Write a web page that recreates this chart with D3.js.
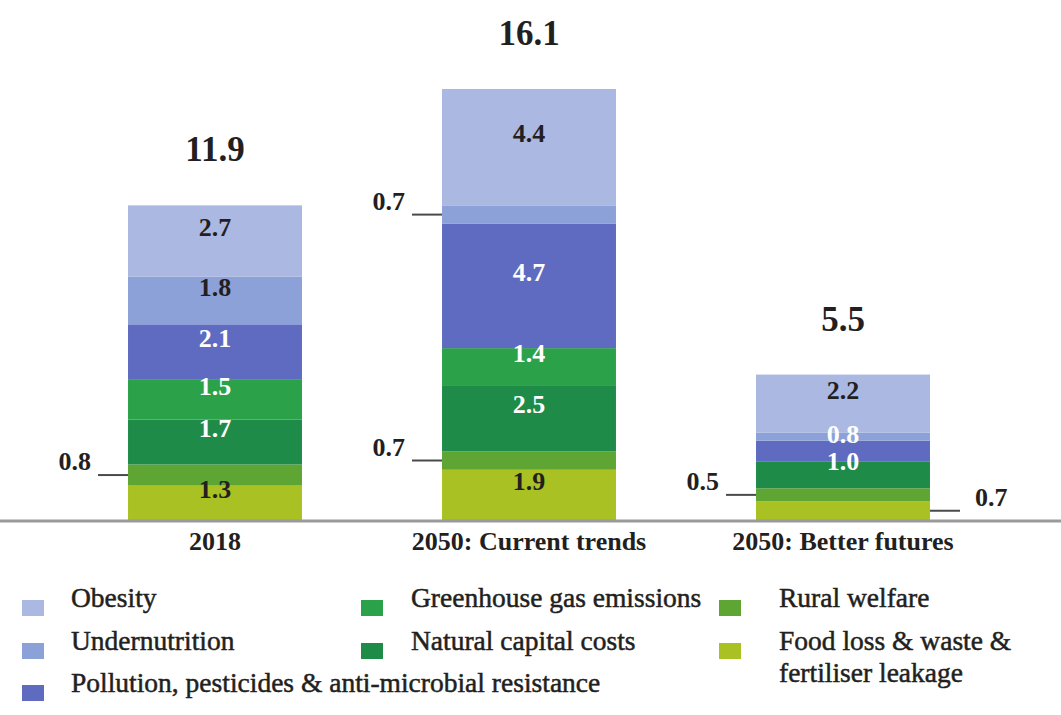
<!DOCTYPE html>
<html>
<head>
<meta charset="utf-8">
<script src="https://cdn.jsdelivr.net/npm/d3@7"></script>
<style>
  body { margin: 0; background: #fff; }
  svg { display: block; }
  text { font-family: "Liberation Serif", "DejaVu Serif", serif; fill: #231f20; }
</style>
</head>
<body>
<svg id="chart" width="1061" height="715"></svg>
<script>
// values in trillions of dollars
const categories = ["2018", "2050: Current trends", "2050: Better futures"];
const series = [
  "Food loss & waste & fertiliser leakage",
  "Rural welfare",
  "Natural capital costs",
  "Greenhouse gas emissions",
  "Pollution, pesticides & anti-microbial resistance",
  "Undernutrition",
  "Obesity"
];
const foodLoss       = [1.3, 1.9, 0.7];
const ruralWelfare   = [0.8, 0.7, 0.5];
const naturalCapital = [1.7, 2.5, 1.0];
const greenhouse     = [1.5, 1.4, 0.0];
const pollution      = [2.1, 4.7, 0.8];
const undernutrition = [1.8, 0.7, 0.3];
const obesity        = [2.7, 4.4, 2.2];
const totals         = [11.9, 16.1, 5.5];

const colors = ["#a9c122", "#5fa534", "#1f8b48", "#2ba24a", "#5f6bc0", "#8ca1d8", "#aab8e2"];
const darkText = ["Food loss & waste & fertiliser leakage", "Undernutrition", "Obesity"];

// small segments labelled outside the bar with a leader line
const outside = [
  ["2018", "Rural welfare", "left"],
  ["2050: Current trends", "Undernutrition", "left"],
  ["2050: Current trends", "Rural welfare", "left"],
  ["2050: Better futures", "Rural welfare", "left"],
  ["2050: Better futures", "Food loss & waste & fertiliser leakage", "right"]
];

const legendCols = [
  ["Obesity", "Undernutrition", "Pollution, pesticides & anti-microbial resistance"],
  ["Greenhouse gas emissions", "Natural capital costs"],
  ["Rural welfare", "Food loss & waste & fertiliser leakage"]
];

const width = 1061, height = 715;
const svg = d3.select("#chart");
svg.append("rect").attr("width", width).attr("height", height).attr("fill", "#fff");

const valuesBySeries = [foodLoss, ruralWelfare, naturalCapital, greenhouse, pollution, undernutrition, obesity];
const rows = categories.map((c, i) => {
  const r = { cat: c };
  series.forEach((s, j) => r[s] = valuesBySeries[j][i]);
  return r;
});
const stacked = d3.stack().keys(series)(rows);

const x = d3.scaleBand()
  .domain(categories)
  .range([58, 1000])
  .paddingInner(0.446)
  .paddingOuter(0.223);

const maxSum = d3.max(rows, r => d3.sum(series, s => r[s]));
const y = d3.scaleLinear()
  .domain([0, maxSum])
  .range([520, 89]);

const color = d3.scaleOrdinal().domain(series).range(colors);
const fmt = d3.format(".1f");

// bars
const layers = svg.append("g").selectAll("g")
  .data(stacked)
  .enter().append("g")
  .attr("fill", d => color(d.key));

layers.selectAll("rect")
  .data(d => d)
  .enter().append("rect")
  .attr("x", d => x(d.data.cat))
  .attr("y", d => y(d[1]))
  .attr("width", x.bandwidth())
  .attr("height", d => y(d[0]) - y(d[1]));

// labels inside segments, pushed up when two would collide
const isOutside = (cat, key) => outside.some(o => o[0] === cat && o[1] === key);
const inside = [];
categories.forEach(cat => {
  let prev = Infinity;
  stacked.forEach(layer => {
    const d = layer.find(p => p.data.cat === cat);
    const v = d.data[layer.key];
    if (v < 0.8 || isOutside(cat, layer.key)) return;
    let ly = (y(d[0]) + y(d[1])) / 2 - 5;
    if (prev - ly < 27) ly = prev - 27;
    prev = ly;
    inside.push({ key: layer.key, cat: cat, v: v, ly: ly });
  });
});

svg.append("g").selectAll("text")
  .data(inside)
  .enter().append("text")
  .attr("x", e => x(e.cat) + x.bandwidth() / 2)
  .attr("y", e => e.ly)
  .attr("text-anchor", "middle")
  .attr("font-size", 26)
  .attr("font-weight", "bold")
  .style("fill", e => darkText.includes(e.key) ? "#231f20" : "#fff")
  .text(e => fmt(e.v));

// labels outside with leader lines
const outG = svg.append("g");
outside.forEach(([cat, key, side]) => {
  const layer = stacked.find(l => l.key === key);
  const d = layer.find(p => p.data.cat === cat);
  const cy = (y(d[0]) + y(d[1])) / 2;
  const x0 = side === "left" ? x(cat) : x(cat) + x.bandwidth();
  const x1 = side === "left" ? x0 - 30 : x0 + 30;
  outG.append("line")
    .attr("x1", x0).attr("x2", x1)
    .attr("y1", cy).attr("y2", cy)
    .attr("stroke", "#4a4a4a")
    .attr("stroke-width", 2);
  outG.append("text")
    .attr("x", side === "left" ? x1 - 7 : x1 + 15)
    .attr("y", cy - 5)
    .attr("text-anchor", side === "left" ? "end" : "start")
    .attr("font-size", 26)
    .attr("font-weight", "bold")
    .text(fmt(d.data[key]));
});

// totals above bars
svg.append("g").selectAll("text")
  .data(rows)
  .enter().append("text")
  .attr("x", r => x(r.cat) + x.bandwidth() / 2)
  .attr("y", r => y(d3.sum(series, s => r[s])) - 44)
  .attr("text-anchor", "middle")
  .attr("font-size", 35)
  .attr("font-weight", "bold")
  .text((r, i) => fmt(totals[i]));

// baseline and category axis
svg.append("line")
  .attr("x1", 0).attr("x2", width)
  .attr("y1", y(0) + 1).attr("y2", y(0) + 1)
  .attr("stroke", "#9a9a9a")
  .attr("stroke-width", 3);

const axis = svg.append("g")
  .attr("transform", `translate(0,${y(0)})`)
  .call(d3.axisBottom(x).tickSize(0).tickPadding(12));
axis.select(".domain").remove();
axis.selectAll("text")
  .attr("font-size", 26)
  .attr("font-weight", "bold")
  .style("font-family", "'Liberation Serif', serif")
  .style("fill", "#231f20");

// legend
const colSquareX = [22, 361, 719];
const colTextX = [71, 411, 779];
const rowY = [608, 651, 693];
const legend = svg.append("g");
legendCols.forEach((col, ci) => {
  col.forEach((key, ri) => {
    legend.append("rect")
      .attr("x", colSquareX[ci])
      .attr("y", rowY[ri] - 8)
      .attr("width", 22)
      .attr("height", 16)
      .attr("fill", color(key));
    const t = legend.append("text")
      .attr("x", colTextX[ci])
      .attr("y", rowY[ri] - 1)
      .attr("font-size", 27.5)
      .style("stroke", "#231f20")
      .style("stroke-width", 0.5);
    if (key === "Food loss & waste & fertiliser leakage") {
      t.append("tspan").attr("x", colTextX[ci]).text("Food loss & waste &");
      t.append("tspan").attr("x", colTextX[ci]).attr("dy", 32).text("fertiliser leakage");
    } else {
      t.text(key);
    }
  });
});
</script>
</body>
</html>
